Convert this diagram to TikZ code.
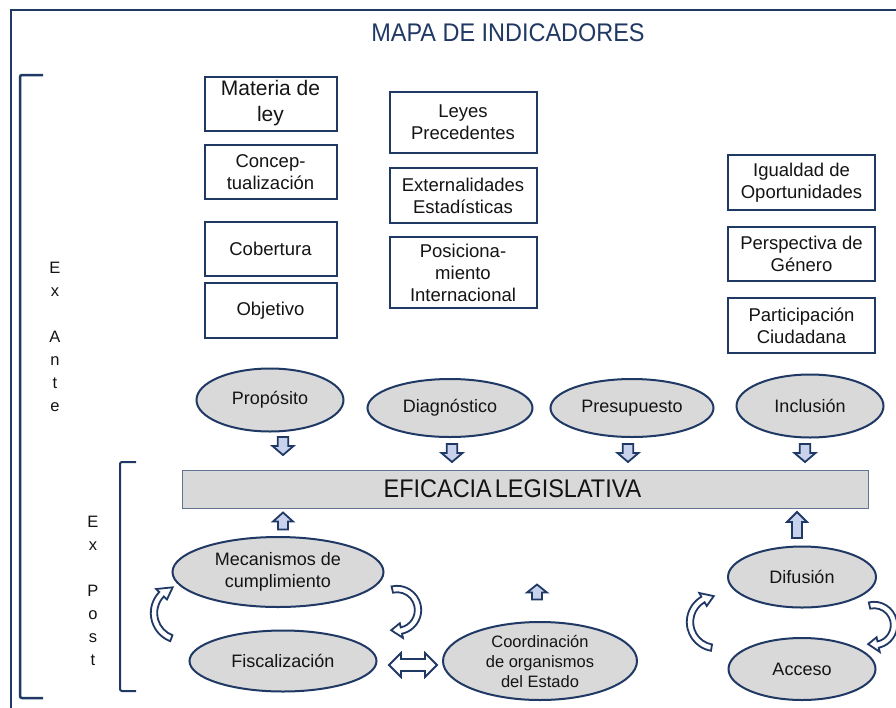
\documentclass[tikz,border=0pt]{standalone}
\usepackage{fontspec}
\setmainfont{Liberation Sans}
\newfontfamily\condfont[FakeStretch=0.92]{Liberation Sans}
\usetikzlibrary{calc,shapes.geometric}
\definecolor{navy}{HTML}{1F3864}
\definecolor{ellfill}{HTML}{D9D9D9}
\definecolor{arrfill}{HTML}{C9D2EC}
\definecolor{txt}{HTML}{141414}
\newcommand\CurvArr[6]{%
  \draw[carrow,shift={(#1,#2)}] ({#4}:{#3+3.2}) arc[start angle=#4,end angle=#5,radius=#3+3.2]
    -- ({#5}:{#3+7.5}) -- ({#6}:{#3}) -- ({#5}:{#3-7.5}) -- ({#5}:{#3-3.2})
    arc[start angle=#5,end angle=#4,radius=#3-3.2] -- cycle;}
\tikzset{
  box/.style={draw=navy, line width=2pt, align=center, inner sep=0pt, text=txt,
    font=\fontsize{18.5pt}{22pt}\selectfont},
  ell/.style={ellipse, draw=navy, fill=ellfill, line width=2pt, inner sep=0pt},
  etext/.style={align=center, text=txt, inner sep=0pt, font=\fontsize{18pt}{22pt}\selectfont},
  blk/.style={draw=navy, fill=arrfill, line width=1.8pt, line join=miter},
  carrow/.style={draw=navy, fill=white, line width=1.8pt, line join=miter},
  side/.style={anchor=north, align=center, inner sep=0pt, text=txt,
    font=\fontsize{16.5pt}{23pt}\selectfont},
  pics/blockup/.style args={#1/#2/#3}{code={%
    \draw[blk] ({-#1/4},{#2/2}) -- ({-#1/4},{-#2/2+#3}) -- ({-#1/2},{-#2/2+#3}) -- (0,{-#2/2})
      -- ({#1/2},{-#2/2+#3}) -- ({#1/4},{-#2/2+#3}) -- ({#1/4},{#2/2}) -- cycle;}}
}
\begin{document}
\begin{tikzpicture}[x=1pt,y=-1pt]
\useasboundingbox (0,0) rectangle (896,707);
\fill[white] (0,0) rectangle (896,707);
% frame
\draw[navy, line width=1.5pt] (11,710) -- (11,10) -- (900,10);
% title
\node[text=navy, inner sep=0pt, font=\fontsize{25.5pt}{30pt}\selectfont\condfont] (title) at (508,33) {MAPA DE INDICADORES};
% brackets
\draw[navy, line width=2.5pt, rounded corners=2pt] (43,75) -- (20,75) -- (20,698) -- (43,698);
\draw[navy, line width=2pt, rounded corners=2pt] (136,462) -- (120,462) -- (120,691) -- (136,691);
\node[side] (exante) at (55,262) {E\\x\\[23pt]A\\n\\t\\e};
\node[side] (expost) at (93,516) {E\\x\\[23pt]P\\o\\s\\t};
% boxes
\node[box, minimum width=132pt, minimum height=54pt, font=\fontsize{21pt}{26pt}\selectfont] (mat) at (270.5,103.5) {Materia de\\ley};
\node[box, minimum width=132pt, minimum height=54pt] (con) at (270.5,172) {Concep-\\tualización};
\node[box, minimum width=132pt, minimum height=54pt] (cob) at (270.5,249) {Cobertura};
\node[box, minimum width=132pt, minimum height=55pt] (obj) at (270.5,310.5) {Objetivo};
\node[box, minimum width=147pt, minimum height=61pt] (ley) at (463,122.5) {Leyes\\Precedentes};
\node[box, minimum width=147pt, minimum height=55pt] (ext) at (463,195.5) {Externalidades\\Estadísticas};
\node[box, minimum width=147pt, minimum height=71pt] (pos) at (463,272.5) {Posiciona-\\miento\\Internacional};
\node[box, minimum width=147pt, minimum height=55pt] (igu) at (801.5,182.5) {Igualdad de\\Oportunidades};
\node[box, minimum width=147pt, minimum height=54pt] (per) at (801.5,253.5) {Perspectiva de\\Género};
\node[box, minimum width=147pt, minimum height=55pt] (par) at (801.5,325.5) {Participación\\Ciudadana};
% upper ellipses
\node[ell, minimum width=147pt, minimum height=63pt] (pro) at (270,400) {};
\node[etext] (protxt) at (pro) {Propósito};
\node[ell, minimum width=165pt, minimum height=58pt] (dia) at (450,408) {};
\node[etext] (diatxt) at (dia) {Diagnóstico};
\node[ell, minimum width=163pt, minimum height=58pt] (pre) at (632,408) {};
\node[etext] (pretxt) at (pre) {Presupuesto};
\node[ell, minimum width=147pt, minimum height=63pt] (inc) at (810,406) {};
\node[etext] (inctxt) at (inc) {Inclusión};
% down arrows
\pic[rotate=180] at (283,446) {blockup=21/18/9};
\pic[rotate=180] at (452,453) {blockup=21/18/9};
\pic[rotate=180] at (628,453) {blockup=21/18/9};
\pic[rotate=180] at (805,453) {blockup=21/18/9};
% bar
\node[draw=navy!70, fill=ellfill, line width=1pt, minimum width=686pt, minimum height=38pt, inner sep=0pt] (efi) at (525,489) {};
\node[text=txt, inner sep=0pt, font=\fontsize{25.5pt}{30pt}\selectfont\condfont] (efitxt) at (512.5,489) {EFICACIA\kern3pt LEGISLATIVA};
% up arrows
\pic at (283,521) {blockup=20/17/9};
\pic at (797,525) {blockup=20/26/10};
\pic at (537,592) {blockup=20/15/8};
% lower ellipses
\node[ell, minimum width=211pt, minimum height=70pt] (mec) at (278,572) {};
\node[etext] (mectxt) at (mec) {Mecanismos de\\cumplimiento};
\node[ell, minimum width=187pt, minimum height=61pt] (fis) at (283,661) {};
\node[etext] (fistxt) at (fis) {Fiscalización};
\node[ell, minimum width=194pt, minimum height=78pt] (coo) at (540,661) {};
\node[etext, font=\fontsize{16.5pt}{20pt}\selectfont] (cootxt) at (coo) {Coordinación\\de organismos\\del Estado};
\node[ell, minimum width=148pt, minimum height=61pt] (dif) at (802,577) {};
\node[etext] (diftxt) at (dif) {Difusión};
\node[ell, minimum width=147pt, minimum height=62pt] (acc) at (802,669) {};
\node[etext] (acctxt) at (acc) {Acceso};
% double arrow
\draw[carrow, shift={(413,665)}] (-24,0) -- (-12,-12) -- (-12,-6) -- (12,-6) -- (12,-12) -- (24,0)
  -- (12,12) -- (12,6) -- (-12,6) -- (-12,12) -- cycle;
% curved arrows
\CurvArr{181}{613}{27}{111}{224}{252}
\CurvArr{397}{610}{21}{-103}{78}{106}
\CurvArr{716}{622}{26}{100}{240}{265}
\CurvArr{874}{625}{20}{-103}{78}{107}
\end{tikzpicture}
\end{document}
